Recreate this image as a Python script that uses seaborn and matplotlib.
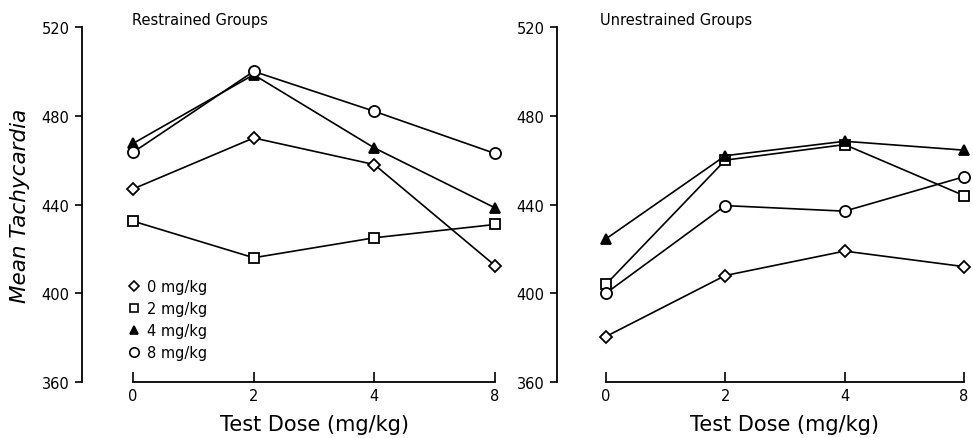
import numpy as np
import pandas as pd
import matplotlib
matplotlib.use("Agg")
import matplotlib.pyplot as plt
import seaborn as sns
from matplotlib.lines import Line2D

# ---------------- data ----------------
test_doses = ["0", "2", "4", "8"]
groups = ["0 mg/kg", "2 mg/kg", "4 mg/kg", "8 mg/kg"]

restrained_0 = [447, 470, 458, 412.5]
restrained_2 = [432.5, 416, 425, 431]
restrained_4 = [467.5, 498.5, 465.5, 438.5]
restrained_8 = [463.5, 500, 482, 463]

unrestrained_0 = [380.5, 408, 419, 412]
unrestrained_2 = [404, 460, 467, 444]
unrestrained_4 = [424.5, 462, 468.5, 464.5]
unrestrained_8 = [400, 439.5, 437, 452.5]

y_ticks = [360, 400, 440, 480, 520]
panel_titles = ["Restrained Groups", "Unrestrained Groups"]

rows = []
for cond, series in [("Restrained", [restrained_0, restrained_2, restrained_4, restrained_8]),
                     ("Unrestrained", [unrestrained_0, unrestrained_2, unrestrained_4, unrestrained_8])]:
    for g, vals in zip(groups, series):
        for d, v in zip(test_doses, vals):
            rows.append({"cond": cond, "group": g, "dose": d, "value": v})
df = pd.DataFrame(rows)

# ---------------- style ----------------
sns.set_style("ticks")
plt.rcParams["font.family"] = ["DejaVu Sans"]
plt.rcParams["text.color"] = "black"
plt.rcParams["axes.labelcolor"] = "black"

marker_style = {
    "0 mg/kg": dict(marker="D", markersize=5.8, markerfacecolor="white"),
    "2 mg/kg": dict(marker="s", markersize=7, markerfacecolor="white"),
    "4 mg/kg": dict(marker="^", markersize=7.5, markerfacecolor="black"),
    "8 mg/kg": dict(marker="o", markersize=8, markerfacecolor="white"),
}

fig = plt.figure(figsize=(9.73, 4.39), dpi=100)
W, H = 973, 439
bot = 1 - 383 / H
hgt = 355 / H
ax1 = fig.add_axes([82 / W, bot, 419 / W, hgt])
ax2 = fig.add_axes([557 / W, bot, 413 / W, hgt])

for ax, cond, title, xlim_lo, xlab_x, title_x in [
    (ax1, "Restrained", panel_titles[0], -0.423, 0.554, 0.119),
    (ax2, "Unrestrained", panel_titles[1], -0.41, 0.552, 0.104),
]:
    sub = df[df["cond"] == cond]
    for g in groups:
        s = sub[sub["group"] == g]
        sns.lineplot(data=s, x="dose", y="value", ax=ax, color="black",
                     linewidth=1.2, markeredgecolor="black", markeredgewidth=1.3,
                     zorder=3, **marker_style[g])
    ax.set_ylim(360, 520)
    ax.set_xlim(xlim_lo, 3.05)
    ax.set_yticks(y_ticks)
    ax.set_xticks(range(len(test_doses)))
    ax.set_xticklabels(test_doses)
    ax.spines["top"].set_visible(False)
    ax.spines["right"].set_visible(False)
    ax.spines["bottom"].set_bounds(0, 3)
    for sp in ["left", "bottom"]:
        ax.spines[sp].set_linewidth(1.3)
        ax.spines[sp].set_color("black")
    ax.tick_params(axis="y", direction="out", length=5, width=1.2, pad=4,
                   labelsize=10.5, colors="black")
    ax.tick_params(axis="x", direction="in", length=7, width=1.2, pad=4,
                   labelsize=10.5, colors="black")
    ax.set_xlabel("Test Dose (mg/kg)", fontsize=15)
    ax.xaxis.set_label_coords(xlab_x, -0.09)
    ax.set_ylabel("")
    ax.text(title_x, 1.02, title, transform=ax.transAxes, ha="left",
            va="center", fontsize=10.5)

ax1.set_ylabel("Mean Tachycardia", fontsize=15.5, fontstyle="italic", labelpad=8)

handles = [Line2D([], [], color="black", linestyle="none",
                  markeredgecolor="black", markeredgewidth=1.2,
                  **{**marker_style[g], "markersize": marker_style[g]["markersize"] * 0.85})
           for g in groups]
ax1.legend(handles, groups, loc="upper left", bbox_to_anchor=(0.109, 0.289),
           frameon=False, fontsize=10.5, handlelength=0.8, handletextpad=0.5,
           labelspacing=0.48, borderpad=0, borderaxespad=0)

fig.savefig("out.png", dpi=100)
